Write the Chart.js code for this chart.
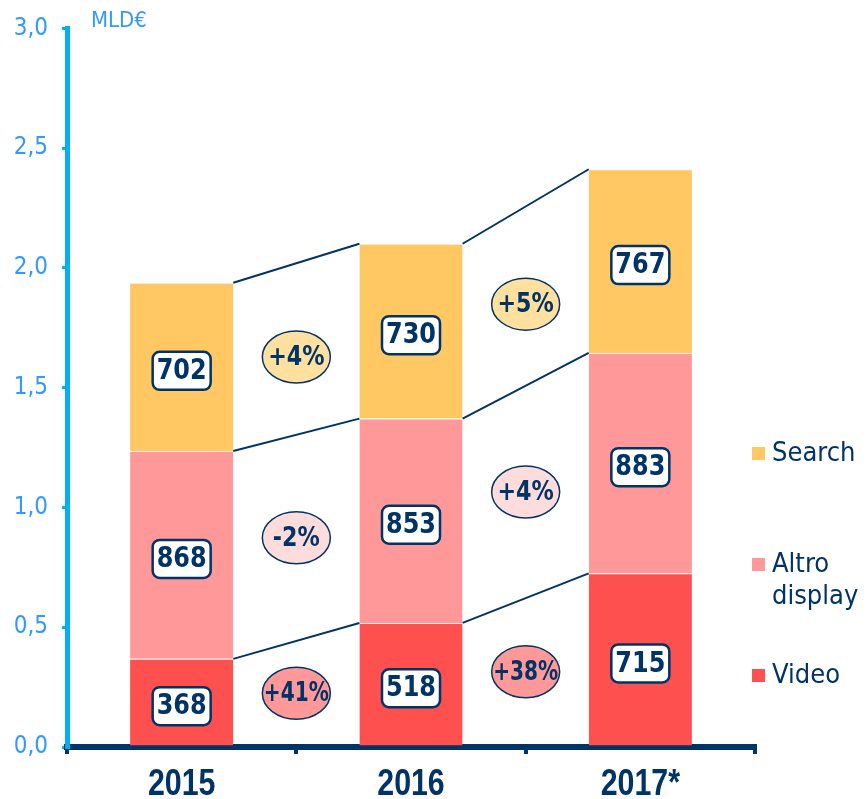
<!DOCTYPE html>
<html>
<head>
<meta charset="utf-8">
<script src="https://cdn.jsdelivr.net/npm/chart.js@4.4.0/dist/chart.umd.min.js"></script>
<style>
  html, body { margin: 0; padding: 0; background: #fff; }
  #wrap { width: 867px; height: 799px; }
</style>
</head>
<body>
<div id="wrap"><canvas id="chart"></canvas></div>
<script>
const years = ['2015', '2016', '2017*'];
// bar heights in MLD€
const videoValues = [0.368, 0.518, 0.725];
const altroValues = [0.868, 0.853, 0.92];
const searchValues = [0.702, 0.73, 0.767];
// numbers printed in the boxes (M€)
const videoLabels = ['368', '518', '715'];
const altroLabels = ['868', '853', '883'];
const searchLabels = ['702', '730', '767'];
// growth between years
const videoGrowth = ['+41%', '+38%'];
const altroGrowth = ['-2%', '+4%'];
const searchGrowth = ['+4%', '+5%'];
const yTicks = [0, 0.5, 1, 1.5, 2, 2.5, 3];

const navy = '#003366';
const cyan = '#00b0f0';
const tickBlue = '#3399ff';

const boxLabels = [videoLabels, altroLabels, searchLabels];
const growthLabels = [videoGrowth, altroGrowth, searchGrowth];
const growthFill = ['#ff9999', '#ffdcdc', '#ffe09e'];

// draw text squeezed horizontally
function narrowText(ctx, text, x, y, sx) {
    ctx.save();
    ctx.translate(x, y);
    ctx.scale(sx, 1);
    ctx.fillText(text, 0, 0);
    ctx.restore();
}

const overlay = {
    id: 'overlay',
    afterDatasetsDraw(chart) {
        const ctx = chart.ctx;
        const metas = chart.data.datasets.map((ds, d) => chart.getDatasetMeta(d).data);
        ctx.save();

        // lines joining the tops of the segments
        ctx.strokeStyle = navy;
        ctx.lineWidth = 2;
        metas.forEach(bars => {
            for (let i = 0; i < bars.length - 1; i++) {
                const a = bars[i], b = bars[i + 1];
                ctx.beginPath();
                ctx.moveTo(a.x + a.width / 2, a.y);
                ctx.lineTo(b.x - b.width / 2, b.y);
                ctx.stroke();
            }
        });

        // value boxes
        ctx.font = 'bold 28px "DejaVu Sans Condensed", "DejaVu Sans"';
        ctx.textAlign = 'center';
        ctx.textBaseline = 'middle';
        metas.forEach((bars, d) => {
            bars.forEach((bar, i) => {
                const cy = (bar.y + bar.base) / 2 + 4;
                ctx.beginPath();
                ctx.roundRect(bar.x - 29, cy - 19, 58, 38, 7);
                ctx.fillStyle = '#fff';
                ctx.fill();
                ctx.lineWidth = 2.5;
                ctx.strokeStyle = navy;
                ctx.stroke();
                ctx.fillStyle = navy;
                narrowText(ctx, boxLabels[d][i], bar.x, cy + 1, 0.95);
            });
        });

        // growth bubbles
        ctx.font = 'bold 26px "DejaVu Sans Condensed", "DejaVu Sans"';
        metas.forEach((bars, d) => {
            for (let i = 0; i < bars.length - 1; i++) {
                const a = bars[i], b = bars[i + 1];
                const cx = (a.x + b.x) / 2;
                const cy = ((a.y + a.base) / 2 + (b.y + b.base) / 2) / 2 + (d === 2 ? 8 : 0);
                ctx.beginPath();
                ctx.ellipse(cx, cy, 34, 26, 0, 0, Math.PI * 2);
                ctx.fillStyle = growthFill[d];
                ctx.fill();
                ctx.lineWidth = 1.5;
                ctx.strokeStyle = navy;
                ctx.stroke();
                ctx.fillStyle = navy;
                const t = growthLabels[d][i];
                narrowText(ctx, t, cx, cy + 1, t.length > 3 ? 0.86 : 0.95);
            }
        });
        ctx.restore();
    },
    afterDraw(chart) {
        const ctx = chart.ctx;
        ctx.save();
        // unit
        ctx.font = '22px "DejaVu Sans Condensed", "DejaVu Sans"';
        ctx.fillStyle = tickBlue;
        ctx.textAlign = 'left';
        ctx.textBaseline = 'middle';
        ctx.fillText('MLD€', 91, 21);

        // year labels under the axis
        const xs = chart.scales.x;
        ctx.font = 'bold 37px "Liberation Sans", "DejaVu Sans"';
        ctx.fillStyle = navy;
        ctx.textAlign = 'center';
        chart.data.labels.forEach((lab, i) => {
            narrowText(ctx, lab, xs.getPixelForValue(i), 785, 0.82);
        });

        // legend, top to bottom: Search, Altro display, Video
        const items = [
            { ds: 2, lines: ['Search'], y: 453 },
            { ds: 1, lines: ['Altro', 'display'], y: 564 },
            { ds: 0, lines: ['Video'], y: 675 }
        ];
        ctx.font = '27px "DejaVu Sans Condensed", "DejaVu Sans"';
        ctx.textAlign = 'left';
        items.forEach(it => {
            const ds = chart.data.datasets[it.ds];
            ctx.fillStyle = ds.backgroundColor;
            ctx.fillRect(752, it.y - 6, 13, 13);
            ctx.fillStyle = navy;
            it.lines.forEach((t, k) => ctx.fillText(t, 772, it.y + 1 + k * 32));
        });
        ctx.restore();
    }
};

new Chart(document.getElementById('chart'), {
    type: 'bar',
    data: {
        labels: years,
        datasets: [
            { label: 'Video', data: videoValues, backgroundColor: '#ff5050' },
            { label: 'Altro display', data: altroValues, backgroundColor: '#ff9999' },
            { label: 'Search', data: searchValues, backgroundColor: '#ffc862' }
        ].map(ds => Object.assign(ds, {
            categoryPercentage: 1,
            barPercentage: 0.45,
            borderWidth: { top: 1, left: 0, right: 0, bottom: 0 },
            borderColor: '#fbf3ee',
            borderSkipped: 'start'
        }))
    },
    options: {
        responsive: true,
        maintainAspectRatio: false,
        animation: false,
        layout: { padding: { left: 0, right: 112, top: 20, bottom: 0 } },
        plugins: {
            legend: { display: false },
            tooltip: { enabled: false }
        },
        scales: {
            x: {
                stacked: true,
                afterFit: (scale) => { scale.height = 52; },
                border: { color: navy, width: 6 },
                grid: {
                    drawOnChartArea: false,
                    drawTicks: true,
                    tickLength: 7,
                    tickColor: navy,
                    lineWidth: 4,
                    offset: true
                },
                ticks: { display: false }
            },
            y: {
                stacked: true,
                min: 0,
                max: 3,
                afterFit: (scale) => { scale.width = 67; },
                afterBuildTicks: (scale) => { scale.ticks = yTicks.map(v => ({ value: v })); },
                border: { color: cyan, width: 5 },
                grid: {
                    drawOnChartArea: false,
                    drawTicks: true,
                    tickLength: 5,
                    tickColor: cyan,
                    lineWidth: 3
                },
                ticks: {
                    color: tickBlue,
                    padding: 14,
                    font: { family: '"DejaVu Sans Condensed", "DejaVu Sans"', size: 24 },
                    callback: (v) => Number(v).toFixed(1).replace('.', ',')
                }
            }
        }
    },
    plugins: [overlay]
});
</script>
</body>
</html>
